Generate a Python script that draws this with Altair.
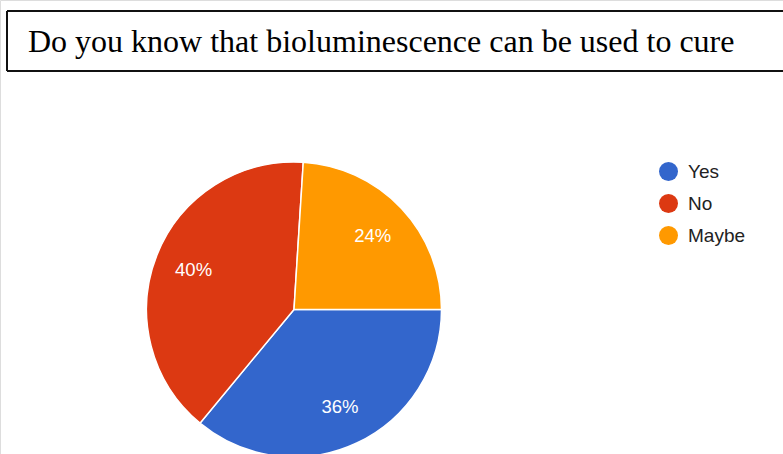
import math
import altair as alt
import pandas as pd

# Survey answers and their shares (percent)
categories = ["Yes", "No", "Maybe"]
shares = [36, 40, 24]
colors = ["#3366CC", "#DC3912", "#FF9900"]
question = "Do you know that bioluminescence can be used to cure"

df = pd.DataFrame({
    "answer": categories,
    "share": shares,
    "order": list(range(len(categories))),
})
df["label"] = df["share"].astype(str) + "%"

W, H = 783, 454
CX, CY, R = 294, 309.5, 147.5

# slices start at 3 o'clock and run clockwise
theta = alt.Theta("share:Q", stack=True,
                  scale=alt.Scale(range=[math.pi / 2, math.pi / 2 + 2 * math.pi]))
color = alt.Color(
    "answer:N",
    sort=categories,
    scale=alt.Scale(domain=categories, range=colors),
    legend=alt.Legend(
        title=None,
        orient="none",
        legendX=659,
        legendY=162,
        symbolType="circle",
        symbolSize=361,
        symbolStrokeWidth=0,
        labelFont="Liberation Sans",
        labelFontSize=19,
        labelColor="#222222",
        labelOffset=10,
        rowPadding=12,
        padding=0,
    ),
)
order = alt.Order("order:Q")

base = alt.Chart(df)

pie = base.mark_arc(radius=R, stroke="white", strokeWidth=1.5, x=CX, y=CY).encode(
    theta=theta, color=color, order=order
)

labels = base.mark_text(
    radius=108, x=CX, y=CY, font="Liberation Sans", fontSize=18.5,
    color="white", baseline="middle", align="center"
).encode(theta=theta, order=order, text="label:N")

# question box: top, bottom and left edges
box_top = alt.Chart().mark_rule(color="#111111", strokeWidth=2).encode(
    x=alt.value(7), x2=alt.value(W + 10), y=alt.value(11))
box_bottom = alt.Chart().mark_rule(color="#111111", strokeWidth=2).encode(
    x=alt.value(7), x2=alt.value(W + 10), y=alt.value(71))
box_left = alt.Chart().mark_rule(color="#111111", strokeWidth=2).encode(
    x=alt.value(7), y=alt.value(11), y2=alt.value(71))
box_text = alt.Chart().mark_text(
    font="Liberation Serif", fontSize=32, color="#000000",
    align="left", baseline="alphabetic", text=question
).encode(x=alt.value(28), y=alt.value(52))

chart = alt.layer(pie, labels, box_top, box_bottom, box_left, box_text).properties(
    width=W, height=H, padding=0, autosize=alt.AutoSizeParams(type="none")
).configure_view(strokeWidth=0).configure(background="white")

chart.save("out.html", embed_options={"renderer": "svg", "actions": False})
